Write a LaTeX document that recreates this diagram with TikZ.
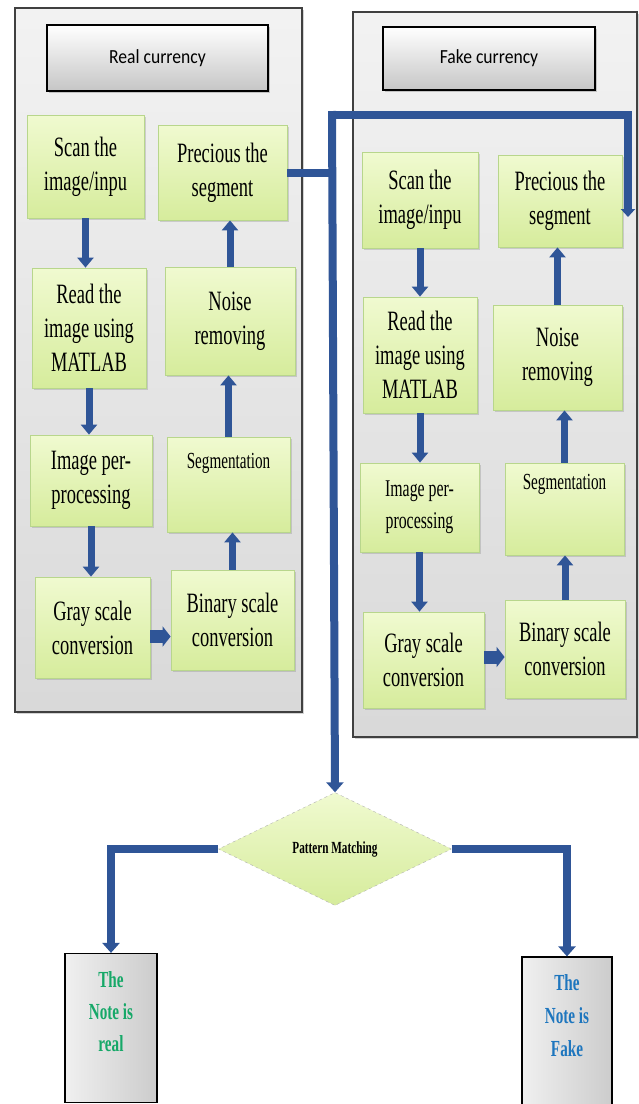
\documentclass[tikz,border=0pt]{standalone}
\usepackage{fontspec}
\usetikzlibrary{shapes.geometric,arrows.meta,shadows}
\newfontfamily\boxfont{Liberation Serif}[FakeStretch=0.66]
\newfontfamily\titlefont{Carlito}[FakeStretch=0.88]
\definecolor{linkblue}{RGB}{47,85,151}
\definecolor{stagetop}{RGB}{240,250,208}
\definecolor{stagebot}{RGB}{214,236,156}
\definecolor{stageline}{RGB}{184,214,140}
\definecolor{realgreen}{RGB}{22,168,104}
\definecolor{fakeblue}{RGB}{30,118,190}
\tikzset{
  panel/.style={draw=black!75,line width=1.2pt,top color=gray!10,bottom color=gray!30,
    drop shadow={opacity=0.35,shadow xshift=2pt,shadow yshift=-2pt}},
  header/.style={draw=black,line width=1.5pt,top color=white,bottom color=gray!45,
    font=\titlefont\fontsize{20}{24}\selectfont,
    drop shadow={opacity=0.4,shadow xshift=2pt,shadow yshift=-2pt}},
  stage/.style={draw=stageline,line width=0.8pt,top color=stagetop,bottom color=stagebot,
    align=center,inner sep=2pt,font=\boxfont\fontsize{28}{34}\selectfont,
    drop shadow={opacity=0.3,shadow xshift=1.5pt,shadow yshift=-1.5pt}},
  result/.style={draw=black,line width=1.2pt,left color=gray!12,right color=gray!40},
  link/.style={draw=linkblue,line width=7pt,-{Triangle[width=16pt,length=10pt]}},
  fatlink/.style={draw=linkblue,line width=13pt,-{Triangle[width=20pt,length=8pt]}},
  bus/.style={draw=linkblue,line width=8pt}
}
\begin{document}
\begin{tikzpicture}[x=1pt,y=-1pt]
\useasboundingbox (0,0) rectangle (639,1104);

\node[panel,minimum width=287pt,minimum height=704pt] (rpanel) at (158.5,360) {};
\node[panel,minimum width=284pt,minimum height=725pt] (fpanel) at (495,374.5) {};

\node[header,minimum width=221pt,minimum height=66pt] (realtitle) at (157.5,58) {Real currency};
\node[header,minimum width=212pt,minimum height=63pt] (faketitle) at (489,58.5) {Fake currency};

\node[stage,minimum width=117pt,minimum height=103pt] (rscan) at (85.5,166.5) {Scan the\\image/inpu};
\node[stage,minimum width=129pt,minimum height=95pt] (rprec) at (222.5,172.5) {Precious the\\segment};
\node[stage,minimum width=114pt,minimum height=120pt] (rread) at (89,328) {Read the\\image using\\MATLAB};
\node[stage,minimum width=130pt,minimum height=108pt] (rnoise) at (230,321) {Noise\\removing};
\node[stage,minimum width=122pt,minimum height=91pt] (rimg) at (91,480.5) {Image per-\\processing};
\node[stage,minimum width=123pt,minimum height=95pt,font=\boxfont\fontsize{23}{30}\selectfont] (rseg) at (228.5,484.5) {Segmentation\\[18pt]\mbox{}};
\node[stage,minimum width=115pt,minimum height=101pt] (rgray) at (92.5,627.5) {Gray scale\\conversion};
\node[stage,minimum width=123pt,minimum height=100pt] (rbin) at (232.5,620) {Binary scale\\conversion};

\node[stage,minimum width=116pt,minimum height=96pt] (fscan) at (420,200) {Scan the\\image/inpu};
\node[stage,minimum width=124pt,minimum height=92pt] (fprec) at (560,201) {Precious the\\segment};
\node[stage,minimum width=114pt,minimum height=116pt] (fread) at (420,355) {Read the\\image using\\MATLAB};
\node[stage,minimum width=129pt,minimum height=105pt] (fnoise) at (557.5,357.5) {Noise\\removing};
\node[stage,minimum width=119pt,minimum height=89pt,font=\boxfont\fontsize{24}{32}\selectfont] (fimg) at (419.5,507.5) {Image per-\\processing};
\node[stage,minimum width=119pt,minimum height=92pt,font=\boxfont\fontsize{23}{30}\selectfont] (fseg) at (564.5,509) {Segmentation\\[24pt]\mbox{}};
\node[stage,minimum width=121pt,minimum height=96pt] (fgray) at (423.5,660) {Gray scale\\conversion};
\node[stage,minimum width=120pt,minimum height=98pt] (fbin) at (565,649) {Binary scale\\conversion};

\draw[link] (rscan.south) -- (rscan.south |- rread.north);
\draw[link] (rread.south) -- (rread.south |- rimg.north);
\draw[link] (rimg.south) -- (rimg.south |- rgray.north);
\draw[fatlink] ([yshift=-9pt]rgray.east) -- ([yshift=-9pt]rgray.east -| rbin.west);
\draw[link] (rbin.north) -- (rbin.north |- rseg.south);
\draw[link] (rseg.north) -- (rseg.north |- rnoise.south);
\draw[link] (rnoise.north) -- (rnoise.north |- rprec.south);

\draw[link] (fscan.south) -- (fscan.south |- fread.north);
\draw[link] (fread.south) -- (fread.south |- fimg.north);
\draw[link] (fimg.south) -- (fimg.south |- fgray.north);
\draw[fatlink] ([yshift=3pt]fgray.east) -- ([yshift=3pt]fgray.east -| fbin.west);
\draw[link] (fbin.north) -- (fbin.north |- fseg.south);
\draw[link] (fseg.north) -- (fseg.north |- fnoise.south);
\draw[link] (fnoise.north) -- (fnoise.north |- fprec.south);

\node[diamond,draw=gray!60,dashed,top color=stagetop,bottom color=stagebot,
  minimum width=233pt,minimum height=113pt,inner sep=0pt,
  font=\boxfont\bfseries\fontsize{17}{20}\selectfont] (match) at (335,849) {Pattern Matching};

\node[result,minimum width=92pt,minimum height=149pt] (realnote) at (111,1028) {};
\node[result,minimum width=90pt,minimum height=148pt] (fakenote) at (567,1031) {};
\node[align=center,text=realgreen,font=\boxfont\bfseries\fontsize{23}{32}\selectfont] (realtxt) at (111,1012) {The\\Note is\\real};
\node[align=center,text=fakeblue,font=\boxfont\bfseries\fontsize{23}{33}\selectfont] (faketxt) at (567,1016) {The\\Note is\\Fake};

\coordinate (jt) at (332,111);
\coordinate (jr) at (628,115);
\coordinate (jrb) at (628,217);
\draw[bus] (rprec.east) -- (rprec.east -| jt);
\draw[bus,-{Triangle[width=17pt,length=10pt]}] (jt) -- (match.north);
\draw[bus,-{Triangle[width=14pt,length=8pt]}] (jt |- jr) -- (jr) -- (jrb);
\draw[bus,-{Triangle[width=17pt,length=10pt]}] (match.west) -| (realnote.north);
\draw[bus,-{Triangle[width=17pt,length=10pt]}] (match.east) -| (fakenote.north);
\end{tikzpicture}
\end{document}
